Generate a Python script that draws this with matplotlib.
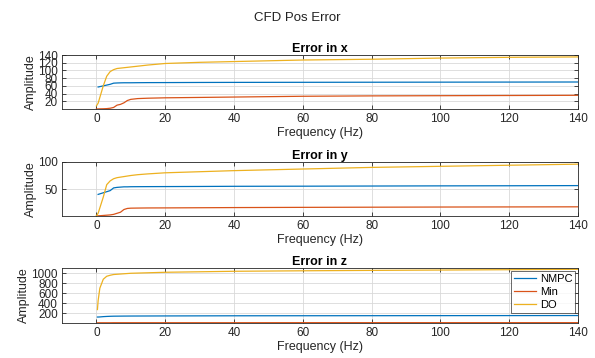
import matplotlib
matplotlib.use("Agg")
import matplotlib.pyplot as plt

plt.rcParams['font.family'] = ['Liberation Sans', 'DejaVu Sans']

# Frequency samples (Hz) per subplot
freq_x = [0, 0.5, 1, 2, 3, 4, 5, 6, 7, 8, 9, 10, 12, 15, 20, 30, 40, 60, 80, 100, 120, 140]
nmpc_x = [None, 57, 58, 60, 62, 64, 67, 67.5, 67.8, 68, 68, 68, 68.2, 68.4, 68.5, 68.8, 69, 69.2, 69.4, 69.6, 69.8, 70]
min_x = [0, 0.2, 0.4, 0.6, 1, 2, 4, 10, 12, 16, 22, 25, 27, 28, 29, 30, 31, 33, 34, 34.5, 35, 35.5]
do_x = [8, 15, 30, 60, 85, 97, 102, 105, 106, 107, 108, 109, 111, 114, 118, 121, 123, 127, 129, 132, 134, 135]

freq_y = [0, 0.5, 1, 2, 3, 4, 5, 6, 7, 8, 9, 10, 12, 15, 20, 30, 40, 60, 80, 100, 120, 140]
nmpc_y = [None, 40, 41, 43, 45, 47, 52, 53, 53.5, 54, 54, 54.2, 54.3, 54.4, 54.5, 54.7, 55, 55.2, 55.5, 55.8, 56, 56.3]
min_y = [0, 0.3, 0.5, 1, 1.5, 2, 3, 5, 7, 12, 14, 14.5, 14.7, 14.9, 15, 15.3, 15.6, 16, 16.3, 16.6, 16.8, 17]
do_y = [0, 5, 15, 35, 58, 65, 69, 71, 72, 73, 74, 75, 76.5, 78, 80, 82, 84, 87, 90, 92, 94, 96]

freq_z = [0.3, 0.5, 1, 2, 3, 4, 5, 8, 10, 20, 40, 60, 80, 100, 120, 140]
nmpc_z = [120, 120, 122, 128, 132, 135, 137, 139, 140, 142, 145, 146, 147, 148, 149, 150]
min_z = [4, 4, 5, 5, 5, 5, 6, 6, 6, 6, 6, 7, 7, 7, 7, 7]
do_z = [270, 450, 700, 880, 940, 960, 975, 990, 1000, 1020, 1040, 1050, 1058, 1065, 1072, 1080]

series_names = ['NMPC', 'Min', 'DO']
colors = ['#0072BD', '#D95319', '#EDB120']

panels = [
    ('Error in x', freq_x, [nmpc_x, min_x, do_x], (0, 140), [20, 40, 60, 80, 100, 120, 140]),
    ('Error in y', freq_y, [nmpc_y, min_y, do_y], (0, 100), [50, 100]),
    ('Error in z', freq_z, [nmpc_z, min_z, do_z], (0, 1106), [200, 400, 600, 800, 1000]),
]

W, H = 595, 358
fig = plt.figure(figsize=(W / 100, H / 100), dpi=100)
fig.suptitle('CFD Pos Error', y=1 - 18 / H, va='center', fontsize=9.5, color='#222222')

tops = [55, 162, 268]
bottoms = [109, 216, 323]
left, right = 62, 578

for (title, f, ys, ylim, yticks), top, bot in zip(panels, tops, bottoms):
    ax = fig.add_axes([left / W, 1 - bot / H, (right - left) / W, (bot - top) / H])
    for name, col, vals in zip(series_names, colors, ys):
        pts = [(a, b) for a, b in zip(f, vals) if b is not None]
        ax.plot([p[0] for p in pts], [p[1] for p in pts], color=col, lw=0.9, label=name)
    ax.set_xlim(-10, 140)
    ax.set_ylim(*ylim)
    ax.set_xticks(range(0, 141, 20))
    ax.set_yticks(yticks)
    ax.grid(True, color='#d9d9d9', lw=0.6)
    ax.set_axisbelow(True)
    ax.tick_params(direction='in', top=True, right=True, labelsize=8.5, length=3,
                   width=0.6, colors='#262626', pad=3)
    for s in ax.spines.values():
        s.set_color('#262626')
        s.set_linewidth(0.6)
    ax.set_title(title, fontsize=9, fontweight='bold', pad=2)
    ax.set_xlabel('Frequency (Hz)', fontsize=9, labelpad=1, color='#262626')
    ax.set_ylabel('Amplitude', fontsize=9, labelpad=1, color='#262626')
    if title == 'Error in z':
        leg = ax.legend(loc='upper right', fontsize=8, frameon=True, fancybox=False,
                        edgecolor='#262626', handlelength=2.0, handletextpad=0.3,
                        borderpad=0.25, labelspacing=0.3, borderaxespad=0.25)
        leg.get_frame().set_linewidth(0.6)

fig.savefig('out.png', dpi=100)
